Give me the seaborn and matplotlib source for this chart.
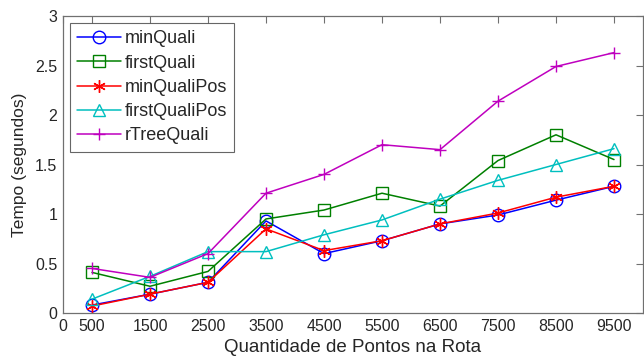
import numpy as np
import pandas as pd
import seaborn as sns
import matplotlib.pyplot as plt

pontos = [500, 1500, 2500, 3500, 4500, 5500, 6500, 7500, 8500, 9500]

min_quali = [0.08, 0.19, 0.31, 0.93, 0.60, 0.73, 0.90, 0.99, 1.14, 1.28]
first_quali = [0.41, 0.27, 0.42, 0.95, 1.04, 1.21, 1.08, 1.54, 1.80, 1.55]
min_quali_pos = [0.07, 0.19, 0.31, 0.85, 0.63, 0.73, 0.90, 1.01, 1.17, 1.28]
first_quali_pos = [0.14, 0.37, 0.62, 0.62, 0.79, 0.94, 1.15, 1.34, 1.50, 1.66]
rtree_quali = [0.45, 0.36, 0.60, 1.21, 1.40, 1.70, 1.65, 2.14, 2.49, 2.63]

series = {
    "minQuali": min_quali,
    "firstQuali": first_quali,
    "minQualiPos": min_quali_pos,
    "firstQualiPos": first_quali_pos,
    "rTreeQuali": rtree_quali,
}
colors = ["#0000ff", "#008000", "#ff0000", "#00bfbf", "#bf00bf"]
# matlab-like markers: circle, square, asterisk, triangle, plus
markers = ["o", "s", (6, 2, 0), "^", "+"]
xticks = [0] + pontos

sns.set_style("white")
plt.rcParams['font.family'] = ['Liberation Sans', 'DejaVu Sans']

df = pd.DataFrame(series)
df["pontos"] = pontos

fig = plt.figure(figsize=(6.44, 3.63), dpi=100)
ax = fig.add_axes([63 / 644, 1 - 313 / 363, 580 / 644, 297 / 363])

for (name, vals), c, m in zip(series.items(), colors, markers):
    sns.lineplot(data=df, x="pontos", y=name, ax=ax, color=c, marker=m,
                 markersize=9, markerfacecolor="none",
                 markeredgecolor=c, markeredgewidth=1.0, linewidth=1.1,
                 label=name)

ax.set_xlim(0, 10000)
ax.set_ylim(0, 3)
ax.set_xticks(xticks)
ax.set_xticklabels([str(t) for t in xticks])
ax.set_yticks([0, 0.5, 1, 1.5, 2, 2.5, 3])
ax.set_yticklabels(["0", "0.5", "1", "1.5", "2", "2.5", "3"])
ax.tick_params(direction="in", length=5, width=0.8, color="#707070",
               labelsize=11.5, labelcolor="#262626", top=True, right=True,
               pad=4)
for s in ax.spines.values():
    s.set_color("#707070")
    s.set_linewidth(0.9)

ax.set_xlabel("Quantidade de Pontos na Rota", fontsize=13.5, color="#262626", labelpad=4)
ax.set_ylabel("Tempo (segundos)", fontsize=12.5, color="#262626", labelpad=6)

leg = ax.legend(loc="upper left", fontsize=13, frameon=True, fancybox=False,
                handlelength=2.4, borderaxespad=0.4, labelspacing=0.4,
                borderpad=0.4, handletextpad=0.2)
leg.get_frame().set_edgecolor("#404040")
leg.get_frame().set_linewidth(0.8)

fig.savefig("out.png", dpi=100)
